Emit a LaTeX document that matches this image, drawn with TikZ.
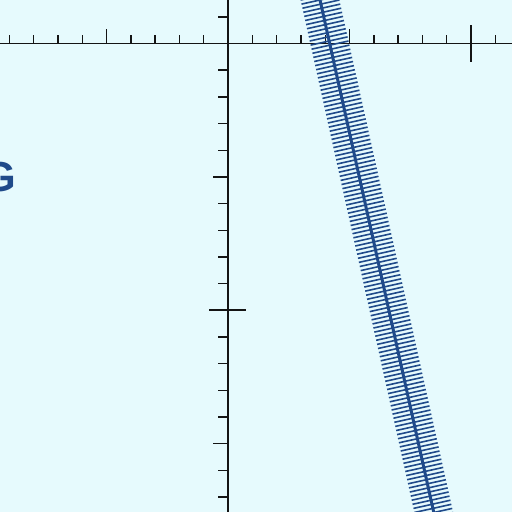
\documentclass[tikz,border=0pt]{standalone}
\usepackage{fontspec}
\setmainfont{Liberation Sans}
\definecolor{bg}{HTML}{E6FAFD}
\definecolor{band}{HTML}{1F4A8A}
\definecolor{axisc}{HTML}{141414}
\begin{document}
\begin{tikzpicture}[x=1pt,y=-1pt,
  axisline/.style={draw=axisc,line width=1.4pt},
  ticksmall/.style={draw=axisc,line width=1.4pt},
  crosstick/.style={draw=axisc,line width=2pt},
  hatchline/.style={draw=band,line width=1.6pt},
  spine/.style={draw=band,line width=3pt},
  label/.style={text=band,font=\bfseries\fontsize{42}{42}\selectfont,inner sep=0pt,anchor=base east}]
\fill[bg] (0,0) rectangle (512,512);
\useasboundingbox (0,0) rectangle (512,512);
\begin{scope}
\clip (0,0) rectangle (512,512);
% horizontal axis
\draw[axisline] (0,43.5) -- (512,43.5);
\foreach \k in {-1,1,2,3,4,6,7,8,9,11,12,13,14,16,17,18,19}{
  \pgfmathsetmacro\xx{471-\k*24.3}
  \draw[ticksmall] (\xx,43.5) -- (\xx,35);
}
\foreach \k in {5,15}{
  \pgfmathsetmacro\xx{471-\k*24.3}
  \draw[ticksmall] (\xx,43.5) -- (\xx,29);
}
\draw[crosstick] (471,25) -- (471,62);
% vertical axis
\draw[axisline] (228,0) -- (228,512);
\foreach \k in {-7,-6,-4,-3,-2,-1,1,2,3,4,6,7,8,9,11}{
  \pgfmathsetmacro\yy{310.3-\k*26.68}
  \draw[ticksmall] (228,\yy) -- (218,\yy);
}
\foreach \k in {-5,5}{
  \pgfmathsetmacro\yy{310.3-\k*26.68}
  \draw[ticksmall] (228,\yy) -- (213,\yy);
}
\draw[crosstick] (209,310.3) -- (246,310.3);
% hatched band
\foreach \i in {-3,...,132}{
  \pgfmathsetmacro\yy{\i*4.1}
  \pgfmathsetmacro\xx{320+0.222*\yy}
  \draw[hatchline] (\xx-18.5,\yy+4.1) -- (\xx+18.5,\yy-4.1);
}
\coordinate (s0) at (317.8,-10);
\coordinate (s1) at (435.9,522);
\draw[spine] (s0) -- (s1);
% label
\node[label] (g) at (16,191.5) {G};
\end{scope}
\end{tikzpicture}
\end{document}
